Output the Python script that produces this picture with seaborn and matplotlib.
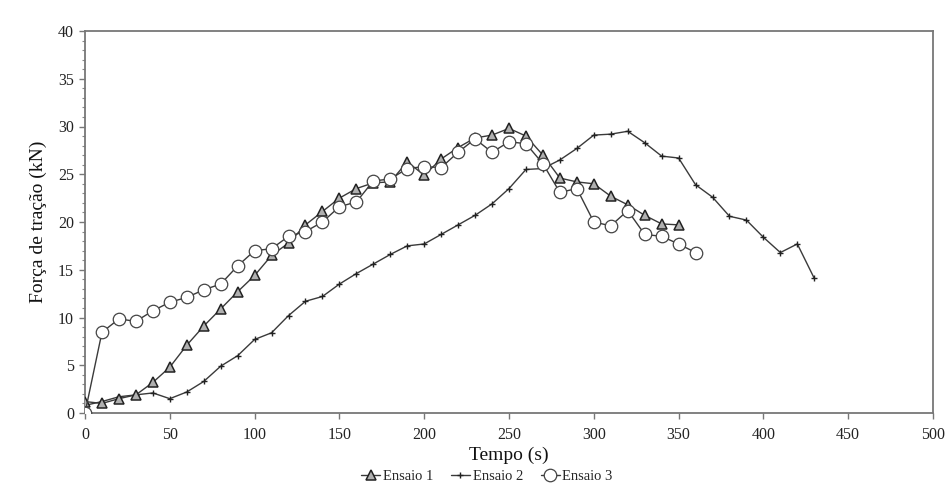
import numpy as np
import pandas as pd
import matplotlib
matplotlib.use("Agg")
import matplotlib.pyplot as plt
import seaborn as sns
from matplotlib.ticker import MultipleLocator

# ---- data ----
t1 = list(range(0, 351, 10))
ensaio1 = [1.2, 1.0, 1.5, 1.9, 3.2, 4.8, 7.1, 9.1, 10.9, 12.7, 14.4, 16.5, 17.8,
           19.7, 21.1, 22.5, 23.5, 24.1, 24.2, 26.3, 24.9, 26.6, 27.8, 28.8, 29.1,
           29.8, 29.0, 27.0, 24.6, 24.2, 24.0, 22.7, 21.8, 20.7, 19.8, 19.7]

t2 = list(range(0, 431, 10))
ensaio2 = [0.8, 1.2, 1.7, 1.9, 2.1, 1.5, 2.2, 3.3, 4.9, 6.0, 7.7, 8.4, 10.2, 11.7,
           12.2, 13.5, 14.6, 15.6, 16.6, 17.5, 17.7, 18.7, 19.7, 20.7, 21.9, 23.5,
           25.5, 25.6, 26.5, 27.7, 29.1, 29.2, 29.5, 28.3, 26.9, 26.7, 23.9, 22.6,
           20.6, 20.2, 18.4, 16.8, 17.7, 14.1]

t3 = list(range(0, 361, 10))
ensaio3 = [0.0, 8.45, 9.85, 9.6, 10.7, 11.6, 12.1, 12.9, 13.5, 15.4, 17.0, 17.2,
           18.5, 19.0, 20.0, 21.6, 22.1, 24.3, 24.5, 25.6, 25.8, 25.7, 27.3, 28.7,
           27.3, 28.4, 28.2, 26.1, 23.1, 23.5, 20.0, 19.6, 21.2, 18.7, 18.5, 17.7,
           16.8]

labels = ["Ensaio 1", "Ensaio 2", "Ensaio 3"]
x_ticks = list(range(0, 501, 50))
y_ticks = list(range(0, 41, 5))

# ---- style ----
sns.set_theme(style="white")
plt.rcParams["font.family"] = ["Liberation Serif", "DejaVu Serif"]

fig = plt.figure(figsize=(9.47, 4.87), dpi=100)
ax = fig.add_axes([85 / 947, 1 - 413 / 487, (933 - 85) / 947, (413 - 31) / 487])

lc = "#3a3a3a"
d1 = pd.DataFrame({"t": t1, "f": ensaio1})
d2 = pd.DataFrame({"t": t2, "f": ensaio2})
d3 = pd.DataFrame({"t": t3, "f": ensaio3})

sns.lineplot(data=d1, x="t", y="f", ax=ax, color=lc, lw=1.0, marker="^",
             markersize=7.5, markerfacecolor="#b0b0b0", markeredgecolor="#222222",
             markeredgewidth=1.1, label=labels[0], zorder=3)
sns.lineplot(data=d2, x="t", y="f", ax=ax, color=lc, lw=1.0, marker="+",
             markersize=4.5, markeredgecolor="#222222", markeredgewidth=1.0,
             label=labels[1], zorder=2)
sns.lineplot(data=d3, x="t", y="f", ax=ax, color=lc, lw=1.0, marker="o",
             markersize=9, markerfacecolor="white", markeredgecolor="#444444",
             markeredgewidth=0.9, label=labels[2], zorder=4)

ax.set_xlim(0, 500)
ax.set_ylim(0, 40)
ax.set_xticks(x_ticks)
ax.set_yticks(y_ticks)
ax.yaxis.set_minor_locator(MultipleLocator(1))
ax.tick_params(axis="both", which="major", direction="out", length=4, width=1,
               color="#777777", labelsize=11.5, labelcolor="#222222",
               bottom=True, left=True)
ax.tick_params(axis="x", which="major", pad=6)
ax.tick_params(axis="y", which="major", pad=4)
ax.tick_params(axis="y", which="minor", direction="out", length=2.5, width=0.8,
               color="#888888", left=True)
for s in ax.spines.values():
    s.set_color("#777777")
    s.set_linewidth(1.3)

ax.set_xlabel("Tempo (s)", fontsize=14, color="#111111", labelpad=3)
ax.set_ylabel("Força de tração (kN)", fontsize=14, color="#111111", labelpad=8)

leg = ax.legend(loc="center", bbox_to_anchor=(487 / 947, 1 - 476 / 487),
                bbox_transform=fig.transFigure, ncol=3, frameon=False,
                fontsize=10.5, handlelength=1.3, handletextpad=0.2,
                columnspacing=1.2, borderpad=0)

fig.savefig("out.png", dpi=100, facecolor="white")
